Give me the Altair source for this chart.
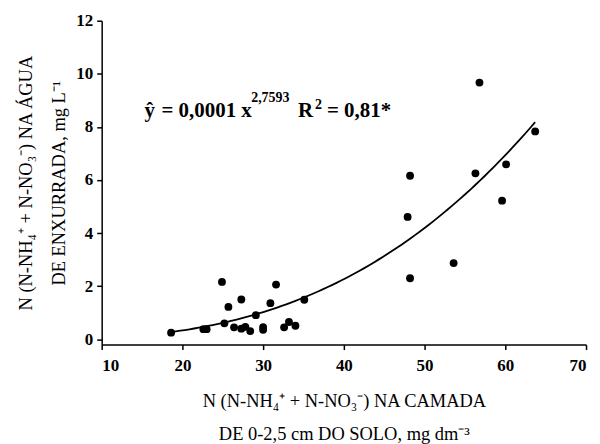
import altair as alt
import numpy as np
import pandas as pd

# soil N in 0-2.5 cm layer (mg dm-3) and runoff N (mg L-1)
soil_n = [18.6, 22.6, 23.0, 24.9, 25.2, 25.7, 26.4, 27.3, 27.3, 27.8,
          28.4, 29.1, 30.0, 30.0, 30.9, 31.6, 32.6, 33.2, 34.0, 35.1,
          47.9, 48.2, 48.2, 53.6, 56.3, 56.8, 59.6, 60.1, 63.7]
runoff_n = [0.25, 0.38, 0.38, 2.16, 0.60, 1.22, 0.45, 1.50, 0.40, 0.47,
            0.31, 0.91, 0.46, 0.36, 1.36, 2.06, 0.45, 0.65, 0.51, 1.49,
            4.61, 6.16, 2.30, 2.87, 6.25, 9.67, 5.22, 6.59, 7.83]

# fitted power curve y = a * x^b (a shown rounded as 0,0001 on the chart)
fit_a = 0.000086
fit_b = 2.7593

x_ticks = [10, 20, 30, 40, 50, 60, 70]
y_ticks = [0, 2, 4, 6, 8, 10, 12]

x_title = ["N (N-NH\u2084\u207a + N-NO\u2083\u207b) NA CAMADA",
           "DE 0-2,5 cm DO SOLO, mg dm\u207b\u00b3"]
y_title = ["N (N-NH\u2084\u207a + N-NO\u2083\u207b) NA ÁGUA",
           "DE ENXURRADA, mg L\u207b\u00b9"]

df = pd.DataFrame({"x": soil_n, "y": runoff_n})
cx = np.linspace(min(soil_n), max(soil_n), 80)
curve_df = pd.DataFrame({"x": cx, "y": fit_a * cx ** fit_b})

FONT = "Liberation Serif"

xs = alt.X("x:Q", scale=alt.Scale(domain=[10, 70], nice=False, zero=False),
           axis=alt.Axis(values=x_ticks, title=x_title, grid=False,
                         labelFont=FONT, labelFontWeight="bold",
                         titleFont=FONT,
                         titleX=243, titleY=62, titleBaseline="alphabetic",
                         titleAlign="center", titleAnchor="middle"))
ys = alt.Y("y:Q", scale=alt.Scale(domain=[-0.2, 12], nice=False, zero=False),
           axis=alt.Axis(values=y_ticks, title=y_title, grid=False,
                         labelFont=FONT, labelFontWeight="bold",
                         titleFont=FONT,
                         titleX=-70, titleY=162.5, titleAngle=-90,
                         titleBaseline="alphabetic", titleAlign="center",
                         titleAnchor="middle"))

points = alt.Chart(df).mark_circle(size=62, color="black", opacity=1).encode(
    x=xs, y=ys)

curve = alt.Chart(curve_df).mark_line(
    color="black", strokeWidth=1.8).encode(x="x:Q", y="y:Q")

ann = pd.DataFrame({"d": [0]})


def txt(s, x, y, size):
    return alt.Chart(ann).mark_text(
        text=s, font=FONT, fontWeight="bold", fontSize=size,
        align="left", baseline="alphabetic", color="black"
    ).encode(x=alt.value(x), y=alt.value(y))


labels = (txt("ŷ", 43, 97, 21) + txt("= 0,0001 x", 60, 97, 21)
          + txt("2,7593", 150, 82, 14) + txt("R", 197, 97, 21)
          + txt("2", 214, 89, 14) + txt("= 0,81*", 226, 97, 21))

chart = alt.layer(curve, points, labels).properties(
    width=486, height=325,
    autosize=alt.AutoSizeParams(type="none"),
    padding={"left": 94, "top": 12, "right": 6, "bottom": 99},
).configure_view(stroke=None).configure_axis(
    domainColor="black", domainWidth=1.5, tickColor="black", tickWidth=1.5,
    tickSize=5, labelFont=FONT, labelFontWeight="bold", labelFontSize=17,
    labelColor="black", titleFont=FONT, titleFontWeight="normal",
    titleFontSize=18.5, titleColor="black", titleLineHeight=33,
).configure_axisX(labelPadding=8).configure_axisY(labelPadding=4)

chart.save("out.html", embed_options={"renderer": "svg", "actions": False})
